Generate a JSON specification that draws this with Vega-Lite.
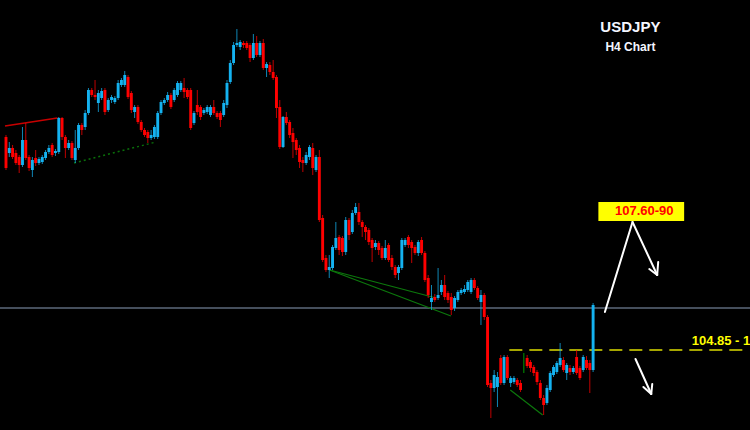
{
"$schema": "https://vega.github.io/schema/vega-lite/v6.json",
"width": 750, "height": 430, "autosize": {"type": "none"}, "padding": 0,
"background": "#000000",
"config": {"view": {"stroke": null}},
"datasets": {
"candles": [
{"bar":0,"open":109.11,"high":109.15,"low":108.45,"close":108.49},
{"bar":1,"open":108.79,"high":109.01,"low":108.71,"close":108.89},
{"bar":2,"open":108.89,"high":108.95,"low":108.67,"close":108.71},
{"bar":3,"open":108.79,"high":108.85,"low":108.55,"close":108.59},
{"bar":4,"open":108.71,"high":108.75,"low":108.39,"close":108.55},
{"bar":5,"open":108.55,"high":109.31,"low":108.51,"close":109.05},
{"bar":6,"open":109.05,"high":109.39,"low":108.65,"close":108.69},
{"bar":7,"open":108.71,"high":108.75,"low":108.43,"close":108.49},
{"bar":8,"open":108.45,"high":108.71,"low":108.31,"close":108.65},
{"bar":9,"open":108.69,"high":108.85,"low":108.53,"close":108.59},
{"bar":10,"open":108.59,"high":108.71,"low":108.55,"close":108.67},
{"bar":11,"open":108.61,"high":108.75,"low":108.57,"close":108.71},
{"bar":12,"open":108.69,"high":108.85,"low":108.65,"close":108.81},
{"bar":13,"open":108.81,"high":108.95,"low":108.77,"close":108.89},
{"bar":14,"open":108.95,"high":108.99,"low":108.71,"close":108.75},
{"bar":15,"open":108.79,"high":108.87,"low":108.73,"close":108.83},
{"bar":16,"open":108.81,"high":109.51,"low":108.77,"close":109.49},
{"bar":17,"open":109.49,"high":109.51,"low":109.05,"close":109.11},
{"bar":18,"open":109.11,"high":109.15,"low":108.69,"close":108.89},
{"bar":19,"open":108.89,"high":109.05,"low":108.85,"close":108.99},
{"bar":20,"open":108.99,"high":109.03,"low":108.65,"close":108.69},
{"bar":21,"open":108.65,"high":109.25,"low":108.59,"close":108.89},
{"bar":22,"open":108.89,"high":109.39,"low":108.85,"close":109.35},
{"bar":23,"open":109.35,"high":109.39,"low":109.15,"close":109.25},
{"bar":24,"open":109.31,"high":109.65,"low":109.25,"close":109.59},
{"bar":25,"open":109.59,"high":110.09,"low":109.55,"close":110.05},
{"bar":26,"open":110.05,"high":110.09,"low":109.91,"close":109.95},
{"bar":27,"open":109.95,"high":110.25,"low":109.85,"close":109.91},
{"bar":28,"open":109.79,"high":110.05,"low":109.61,"close":109.99},
{"bar":29,"open":109.89,"high":110.09,"low":109.85,"close":110.03},
{"bar":30,"open":110.05,"high":110.09,"low":109.55,"close":109.61},
{"bar":31,"open":109.65,"high":109.89,"low":109.61,"close":109.85},
{"bar":32,"open":109.85,"high":109.95,"low":109.79,"close":109.91},
{"bar":33,"open":109.81,"high":109.93,"low":109.77,"close":109.89},
{"bar":34,"open":109.89,"high":110.25,"low":109.85,"close":110.19},
{"bar":35,"open":110.15,"high":110.29,"low":110.11,"close":110.25},
{"bar":36,"open":110.15,"high":110.43,"low":110.11,"close":110.35},
{"bar":37,"open":110.31,"high":110.35,"low":109.87,"close":109.91},
{"bar":38,"open":109.99,"high":110.03,"low":109.59,"close":109.65},
{"bar":39,"open":109.61,"high":109.75,"low":109.49,"close":109.71},
{"bar":40,"open":109.71,"high":109.75,"low":109.37,"close":109.41},
{"bar":41,"open":109.41,"high":109.45,"low":109.21,"close":109.25},
{"bar":42,"open":109.25,"high":109.29,"low":109.11,"close":109.15},
{"bar":43,"open":109.21,"high":109.25,"low":108.99,"close":109.09},
{"bar":44,"open":109.09,"high":109.25,"low":109.05,"close":109.15},
{"bar":45,"open":109.11,"high":109.35,"low":109.07,"close":109.31},
{"bar":46,"open":109.11,"high":109.63,"low":109.07,"close":109.59},
{"bar":47,"open":109.59,"high":109.85,"low":109.55,"close":109.81},
{"bar":48,"open":109.79,"high":109.89,"low":109.75,"close":109.85},
{"bar":49,"open":109.85,"high":110.01,"low":109.81,"close":109.95},
{"bar":50,"open":109.95,"high":109.99,"low":109.67,"close":109.71},
{"bar":51,"open":109.85,"high":110.09,"low":109.81,"close":110.05},
{"bar":52,"open":109.95,"high":110.23,"low":109.91,"close":110.19},
{"bar":53,"open":110.05,"high":110.23,"low":110.01,"close":110.19},
{"bar":54,"open":110.09,"high":110.29,"low":109.89,"close":110.01},
{"bar":55,"open":110.05,"high":110.09,"low":109.87,"close":109.91},
{"bar":56,"open":110.05,"high":110.09,"low":109.25,"close":109.29},
{"bar":57,"open":109.39,"high":109.63,"low":109.35,"close":109.59},
{"bar":58,"open":109.75,"high":110.05,"low":109.55,"close":109.61},
{"bar":59,"open":109.71,"high":109.75,"low":109.45,"close":109.51},
{"bar":60,"open":109.59,"high":109.69,"low":109.55,"close":109.65},
{"bar":61,"open":109.61,"high":109.75,"low":109.57,"close":109.71},
{"bar":62,"open":109.55,"high":109.75,"low":109.51,"close":109.71},
{"bar":63,"open":109.71,"high":109.85,"low":109.55,"close":109.59},
{"bar":64,"open":109.59,"high":109.63,"low":109.47,"close":109.51},
{"bar":65,"open":109.59,"high":109.63,"low":109.31,"close":109.45},
{"bar":66,"open":109.55,"high":109.85,"low":109.51,"close":109.79},
{"bar":67,"open":109.75,"high":110.25,"low":109.69,"close":110.19},
{"bar":68,"open":110.21,"high":110.65,"low":110.17,"close":110.59},
{"bar":69,"open":110.59,"high":111.01,"low":110.55,"close":110.95},
{"bar":70,"open":110.95,"high":111.27,"low":110.91,"close":110.99},
{"bar":71,"open":110.91,"high":111.05,"low":110.85,"close":111.01},
{"bar":72,"open":110.99,"high":111.03,"low":110.89,"close":110.95},
{"bar":73,"open":110.99,"high":111.03,"low":110.85,"close":110.89},
{"bar":74,"open":110.95,"high":110.99,"low":110.61,"close":110.69},
{"bar":75,"open":110.69,"high":111.17,"low":110.65,"close":110.99},
{"bar":76,"open":110.99,"high":111.13,"low":110.71,"close":110.75},
{"bar":77,"open":110.75,"high":111.03,"low":110.71,"close":110.99},
{"bar":78,"open":110.99,"high":111.07,"low":110.45,"close":110.49},
{"bar":79,"open":110.49,"high":110.61,"low":110.31,"close":110.57},
{"bar":80,"open":110.55,"high":110.61,"low":110.35,"close":110.41},
{"bar":81,"open":110.41,"high":110.65,"low":110.25,"close":110.29},
{"bar":82,"open":110.31,"high":110.35,"low":109.49,"close":109.69},
{"bar":83,"open":109.71,"high":109.85,"low":108.87,"close":108.91},
{"bar":84,"open":108.91,"high":109.53,"low":108.89,"close":109.51},
{"bar":85,"open":109.51,"high":109.61,"low":109.35,"close":109.39},
{"bar":86,"open":109.41,"high":109.45,"low":109.09,"close":109.15},
{"bar":87,"open":109.19,"high":109.29,"low":108.69,"close":109.01},
{"bar":88,"open":109.05,"high":109.09,"low":108.75,"close":108.85},
{"bar":89,"open":108.89,"high":108.95,"low":108.49,"close":108.61},
{"bar":90,"open":108.65,"high":108.71,"low":108.41,"close":108.59},
{"bar":91,"open":108.59,"high":108.81,"low":108.55,"close":108.75},
{"bar":92,"open":108.71,"high":108.95,"low":108.65,"close":108.91},
{"bar":93,"open":108.89,"high":108.99,"low":108.35,"close":108.49},
{"bar":94,"open":108.45,"high":108.75,"low":108.41,"close":108.71},
{"bar":95,"open":108.71,"high":108.85,"low":107.41,"close":107.45},
{"bar":96,"open":107.49,"high":107.55,"low":106.61,"close":106.65},
{"bar":97,"open":106.69,"high":106.75,"low":106.41,"close":106.45},
{"bar":98,"open":106.45,"high":106.75,"low":106.29,"close":106.51},
{"bar":99,"open":106.49,"high":106.95,"low":106.45,"close":106.91},
{"bar":100,"open":106.89,"high":107.41,"low":106.85,"close":107.09},
{"bar":101,"open":107.11,"high":107.15,"low":106.75,"close":106.85},
{"bar":102,"open":107.09,"high":107.13,"low":106.73,"close":106.81},
{"bar":103,"open":106.81,"high":107.51,"low":106.75,"close":107.45},
{"bar":104,"open":107.45,"high":107.49,"low":107.05,"close":107.15},
{"bar":105,"open":107.21,"high":107.65,"low":107.17,"close":107.59},
{"bar":106,"open":107.59,"high":107.79,"low":107.55,"close":107.71},
{"bar":107,"open":107.61,"high":107.79,"low":107.35,"close":107.41},
{"bar":108,"open":107.41,"high":107.45,"low":107.11,"close":107.31},
{"bar":109,"open":107.31,"high":107.35,"low":107.05,"close":107.21},
{"bar":110,"open":107.25,"high":107.29,"low":106.95,"close":107.01},
{"bar":111,"open":107.05,"high":107.09,"low":106.61,"close":106.89},
{"bar":112,"open":106.91,"high":107.05,"low":106.85,"close":106.99},
{"bar":113,"open":106.99,"high":107.03,"low":106.75,"close":106.85},
{"bar":114,"open":106.89,"high":106.93,"low":106.65,"close":106.69},
{"bar":115,"open":106.69,"high":107.05,"low":106.65,"close":106.89},
{"bar":116,"open":106.95,"high":106.99,"low":106.61,"close":106.65},
{"bar":117,"open":106.69,"high":106.75,"low":106.45,"close":106.51},
{"bar":118,"open":106.51,"high":106.55,"low":106.29,"close":106.35},
{"bar":119,"open":106.39,"high":106.55,"low":106.25,"close":106.51},
{"bar":120,"open":106.49,"high":107.09,"low":106.45,"close":107.05},
{"bar":121,"open":106.95,"high":107.09,"low":106.91,"close":107.05},
{"bar":122,"open":107.11,"high":107.15,"low":106.89,"close":106.95},
{"bar":123,"open":107.01,"high":107.05,"low":106.59,"close":106.89},
{"bar":124,"open":106.91,"high":106.95,"low":106.75,"close":106.79},
{"bar":125,"open":106.79,"high":107.05,"low":106.73,"close":107.01},
{"bar":126,"open":107.05,"high":107.11,"low":106.75,"close":106.79},
{"bar":127,"open":106.79,"high":106.83,"low":106.21,"close":106.25},
{"bar":128,"open":106.29,"high":106.35,"low":105.89,"close":105.95},
{"bar":129,"open":105.81,"high":106.15,"low":105.65,"close":105.89},
{"bar":130,"open":105.91,"high":105.97,"low":105.81,"close":105.85},
{"bar":131,"open":105.89,"high":106.49,"low":105.85,"close":105.95},
{"bar":132,"open":106.01,"high":106.25,"low":105.95,"close":106.15},
{"bar":133,"open":106.15,"high":106.35,"low":105.85,"close":105.91},
{"bar":134,"open":105.99,"high":106.03,"low":105.79,"close":105.85},
{"bar":135,"open":105.91,"high":105.99,"low":105.55,"close":105.65},
{"bar":136,"open":105.69,"high":105.93,"low":105.63,"close":105.89},
{"bar":137,"open":105.85,"high":106.05,"low":105.81,"close":106.01},
{"bar":138,"open":105.99,"high":106.09,"low":105.95,"close":106.05},
{"bar":139,"open":106.01,"high":106.15,"low":105.97,"close":106.07},
{"bar":140,"open":106.05,"high":106.25,"low":106.01,"close":106.21},
{"bar":141,"open":106.01,"high":106.29,"low":105.97,"close":106.25},
{"bar":142,"open":106.25,"high":106.29,"low":106.05,"close":106.09},
{"bar":143,"open":106.09,"high":106.13,"low":105.85,"close":105.89},
{"bar":144,"open":105.81,"high":106.05,"low":105.35,"close":105.95},
{"bar":145,"open":105.95,"high":105.99,"low":105.45,"close":105.51},
{"bar":146,"open":105.51,"high":105.55,"low":104.11,"close":104.15},
{"bar":147,"open":104.19,"high":104.25,"low":103.49,"close":104.09},
{"bar":148,"open":104.09,"high":104.45,"low":104.01,"close":104.35},
{"bar":149,"open":104.11,"high":104.41,"low":103.71,"close":104.31},
{"bar":150,"open":104.69,"high":104.75,"low":104.15,"close":104.19},
{"bar":151,"open":104.19,"high":104.75,"low":104.15,"close":104.71},
{"bar":152,"open":104.71,"high":104.75,"low":104.25,"close":104.29},
{"bar":153,"open":104.19,"high":104.33,"low":104.11,"close":104.29},
{"bar":154,"open":104.21,"high":104.33,"low":104.17,"close":104.29},
{"bar":155,"open":104.25,"high":104.29,"low":104.11,"close":104.15},
{"bar":156,"open":104.19,"high":104.25,"low":104.01,"close":104.05},
{"bar":157,"open":104.59,"high":104.79,"low":104.39,"close":104.59},
{"bar":158,"open":104.69,"high":104.75,"low":104.49,"close":104.53},
{"bar":159,"open":104.61,"high":104.65,"low":104.41,"close":104.49},
{"bar":160,"open":104.51,"high":104.55,"low":104.33,"close":104.39},
{"bar":161,"open":104.41,"high":104.45,"low":104.15,"close":104.21},
{"bar":162,"open":104.19,"high":104.25,"low":103.85,"close":103.89},
{"bar":163,"open":103.89,"high":103.95,"low":103.55,"close":103.75},
{"bar":164,"open":103.79,"high":104.15,"low":103.75,"close":104.09},
{"bar":165,"open":104.05,"high":104.43,"low":104.01,"close":104.39},
{"bar":166,"open":104.35,"high":104.55,"low":104.31,"close":104.51},
{"bar":167,"open":104.41,"high":104.63,"low":104.37,"close":104.59},
{"bar":168,"open":104.55,"high":104.99,"low":104.51,"close":104.69},
{"bar":169,"open":104.65,"high":104.71,"low":104.41,"close":104.45},
{"bar":170,"open":104.39,"high":104.59,"low":104.25,"close":104.55},
{"bar":171,"open":104.49,"high":104.55,"low":104.35,"close":104.41},
{"bar":172,"open":104.41,"high":104.53,"low":104.37,"close":104.49},
{"bar":173,"open":104.71,"high":104.85,"low":104.35,"close":104.39},
{"bar":174,"open":104.49,"high":104.53,"low":104.25,"close":104.29},
{"bar":175,"open":104.45,"high":104.75,"low":104.41,"close":104.71},
{"bar":176,"open":104.65,"high":104.73,"low":104.45,"close":104.49},
{"bar":177,"open":104.59,"high":104.65,"low":103.99,"close":104.45},
{"bar":178,"open":104.45,"high":105.79,"low":104.41,"close":105.75}
],
"segs": [
{"kind":"red","bar":-0.3,"price":109.33,"bar2":15.6,"price2":109.49},
{"kind":"dot","bar":20.64,"price":108.59,"bar2":45.47,"price2":109.01},
{"kind":"green","bar":98.1,"price":106.45,"bar2":130.4,"price2":105.89},
{"kind":"green","bar":98.1,"price":106.45,"bar2":134.9,"price2":105.53},
{"kind":"green","bar":152.9,"price":104.05,"bar2":162.7,"price2":103.55},
{"kind":"arrow","bar":181.57,"price":105.61,"bar2":189.95,"price2":107.41},
{"kind":"arrow","bar":189.95,"price":107.41,"bar2":197.43,"price2":106.35},
{"kind":"arrow","bar":197.43,"price":106.35,"bar2":195.03,"price2":106.47},
{"kind":"arrow","bar":197.43,"price":106.35,"bar2":197.73,"price2":106.61},
{"kind":"arrow","bar":190.85,"price":104.67,"bar2":195.63,"price2":103.97},
{"kind":"arrow","bar":195.63,"price":103.97,"bar2":193.24,"price2":104.11},
{"kind":"arrow","bar":195.63,"price":103.97,"bar2":195.93,"price2":104.17}
]
},
"layer": [
{"data": {"values": [{"price": 105.69}]},
 "mark": {"type": "rule", "color": "#8a9db8", "strokeWidth": 1},
 "encoding": {"y": {"field": "price", "type": "quantitative", "scale": {"domain": [103.25, 111.85], "nice": false, "zero": false}, "axis": null}}},
{"data": {"values": [{"bar": 152.6, "bar2": 224.05, "price": 104.85}]},
 "mark": {"type": "rule", "color": "#a6a600", "strokeWidth": 2, "strokeDash": [13, 7]},
 "encoding": {
  "x": {"field": "bar", "type": "quantitative", "scale": {"domain": [-0.3, 224.05], "nice": false, "zero": false}, "axis": null},
  "x2": {"field": "bar2"},
  "y": {"field": "price", "type": "quantitative", "scale": {"domain": [103.25, 111.85], "nice": false, "zero": false}, "axis": null}}},
{"data": {"name": "segs"},
 "transform": [{"filter": "datum.kind === 'red'"}],
 "mark": {"type": "rule", "color": "#c80000", "strokeWidth": 1.5},
 "encoding": {
  "x": {"field": "bar", "type": "quantitative", "scale": {"domain": [-0.3, 224.05], "nice": false, "zero": false}, "axis": null},
  "x2": {"field": "bar2"},
  "y": {"field": "price", "type": "quantitative", "scale": {"domain": [103.25, 111.85], "nice": false, "zero": false}, "axis": null},
  "y2": {"field": "price2"}}},
{"data": {"name": "segs"},
 "transform": [{"filter": "datum.kind === 'dot'"}],
 "mark": {"type": "rule", "color": "#0a700a", "strokeWidth": 1.5, "strokeDash": [2, 3]},
 "encoding": {
  "x": {"field": "bar", "type": "quantitative", "scale": {"domain": [-0.3, 224.05], "nice": false, "zero": false}, "axis": null},
  "x2": {"field": "bar2"},
  "y": {"field": "price", "type": "quantitative", "scale": {"domain": [103.25, 111.85], "nice": false, "zero": false}, "axis": null},
  "y2": {"field": "price2"}}},
{"data": {"name": "segs"},
 "transform": [{"filter": "datum.kind === 'green'"}],
 "mark": {"type": "rule", "color": "#0c780c", "strokeWidth": 1.2},
 "encoding": {
  "x": {"field": "bar", "type": "quantitative", "scale": {"domain": [-0.3, 224.05], "nice": false, "zero": false}, "axis": null},
  "x2": {"field": "bar2"},
  "y": {"field": "price", "type": "quantitative", "scale": {"domain": [103.25, 111.85], "nice": false, "zero": false}, "axis": null},
  "y2": {"field": "price2"}}},
{"data": {"name": "candles"},
 "mark": {"type": "rule", "strokeWidth": 1, "opacity": 0.75},
 "encoding": {
  "x": {"field": "bar", "type": "quantitative", "scale": {"domain": [-0.3, 224.05], "nice": false, "zero": false}, "axis": null},
  "y": {"field": "high", "type": "quantitative", "scale": {"domain": [103.25, 111.85], "nice": false, "zero": false}, "axis": null},
  "y2": {"field": "low"},
  "color": {"condition": [{"test": "datum.close > datum.open", "value": "#14b2f0"}, {"test": "datum.close < datum.open", "value": "#ff0000"}], "value": "#00cc00"}}},
{"data": {"name": "candles"},
 "mark": {"type": "bar", "size": 2.9},
 "encoding": {
  "x": {"field": "bar", "type": "quantitative", "scale": {"domain": [-0.3, 224.05], "nice": false, "zero": false}, "axis": null},
  "y": {"field": "open", "type": "quantitative", "scale": {"domain": [103.25, 111.85], "nice": false, "zero": false}, "axis": null},
  "y2": {"field": "close"},
  "color": {"condition": [{"test": "datum.close > datum.open", "value": "#14b2f0"}, {"test": "datum.close < datum.open", "value": "#ff0000"}], "value": "#00cc00"}}},
{"data": {"name": "segs"},
 "transform": [{"filter": "datum.kind === 'arrow'"}],
 "mark": {"type": "rule", "color": "#ffffff", "strokeWidth": 2, "strokeCap": "round"},
 "encoding": {
  "x": {"field": "bar", "type": "quantitative", "scale": {"domain": [-0.3, 224.05], "nice": false, "zero": false}, "axis": null},
  "x2": {"field": "bar2"},
  "y": {"field": "price", "type": "quantitative", "scale": {"domain": [103.25, 111.85], "nice": false, "zero": false}, "axis": null},
  "y2": {"field": "price2"}}},
{"data": {"values": [{"bar": 179.6, "bar2": 205.6, "price": 107.81, "price2": 107.43}]},
 "mark": {"type": "rect", "color": "#ffff00"},
 "encoding": {
  "x": {"field": "bar", "type": "quantitative", "scale": {"domain": [-0.3, 224.05], "nice": false, "zero": false}, "axis": null},
  "x2": {"field": "bar2"},
  "y": {"field": "price", "type": "quantitative", "scale": {"domain": [103.25, 111.85], "nice": false, "zero": false}, "axis": null},
  "y2": {"field": "price2"}}},
{"data": {"values": [{"label": "107.60-90", "bar": 193.5, "price": 107.55}]},
 "mark": {"type": "text", "color": "#ff0000", "font": "Liberation Sans", "fontSize": 13, "fontWeight": "bold", "align": "center", "baseline": "alphabetic"},
 "encoding": {
  "x": {"field": "bar", "type": "quantitative", "scale": {"domain": [-0.3, 224.05], "nice": false, "zero": false}, "axis": null},
  "y": {"field": "price", "type": "quantitative", "scale": {"domain": [103.25, 111.85], "nice": false, "zero": false}, "axis": null},
  "text": {"field": "label"}}},
{"data": {"values": [{"label": "104.85 - 105.00", "bar": 207.9, "price": 104.95}]},
 "mark": {"type": "text", "color": "#ffff00", "font": "Liberation Sans", "fontSize": 13, "fontWeight": "bold", "align": "left", "baseline": "alphabetic"},
 "encoding": {
  "x": {"field": "bar", "type": "quantitative", "scale": {"domain": [-0.3, 224.05], "nice": false, "zero": false}, "axis": null},
  "y": {"field": "price", "type": "quantitative", "scale": {"domain": [103.25, 111.85], "nice": false, "zero": false}, "axis": null},
  "text": {"field": "label"}}},
{"data": {"values": [{"label": "USDJPY", "bar": 189.3, "price": 111.21}]},
 "mark": {"type": "text", "color": "#f4f6ff", "font": "Liberation Sans", "fontSize": 15, "fontWeight": "bold", "align": "center", "baseline": "alphabetic"},
 "encoding": {
  "x": {"field": "bar", "type": "quantitative", "scale": {"domain": [-0.3, 224.05], "nice": false, "zero": false}, "axis": null},
  "y": {"field": "price", "type": "quantitative", "scale": {"domain": [103.25, 111.85], "nice": false, "zero": false}, "axis": null},
  "text": {"field": "label"}}},
{"data": {"values": [{"label": "H4 Chart", "bar": 189.3, "price": 110.83}]},
 "mark": {"type": "text", "color": "#f4f6ff", "font": "Liberation Sans", "fontSize": 12, "fontWeight": "bold", "align": "center", "baseline": "alphabetic"},
 "encoding": {
  "x": {"field": "bar", "type": "quantitative", "scale": {"domain": [-0.3, 224.05], "nice": false, "zero": false}, "axis": null},
  "y": {"field": "price", "type": "quantitative", "scale": {"domain": [103.25, 111.85], "nice": false, "zero": false}, "axis": null},
  "text": {"field": "label"}}}
]
}
